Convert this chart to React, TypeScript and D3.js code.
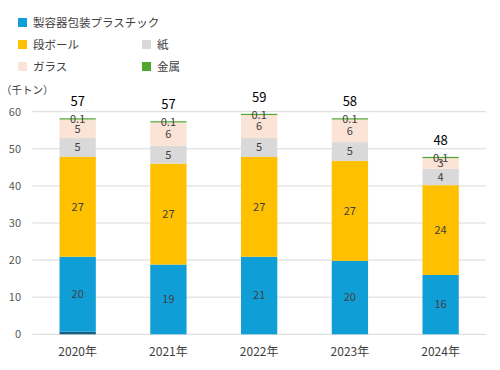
import { useRef, useEffect } from "react";
import * as d3 from "d3";

const years = ["2020年", "2021年", "2022年", "2023年", "2024年"];
const seriesNames = ["その他", "製容器包装プラスチック", "段ボール", "紙", "ガラス", "金属"];
const seriesColors = ["#156082", "#109ed6", "#ffc000", "#d9d9d9", "#fbe3d6", "#4ea72e"];
const other = [0.7, 0, 0, 0, 0];
const plastic = [20.2, 18.8, 20.9, 19.8, 16.0];
const cardboard = [26.9, 27.2, 26.9, 26.9, 24.2];
const paper = [5.1, 4.8, 5.1, 5.1, 4.4];
const glass = [5.0, 6.3, 6.2, 6.1, 2.9];
const metal = [0.1, 0.1, 0.1, 0.1, 0.1];
const yTicks = [0, 10, 20, 30, 40, 50, 60];
// legend layout: [series index, column, row]
const legendItems = [[1, 0, 0], [2, 0, 1], [3, 1, 1], [4, 0, 2], [5, 1, 2]];

const FONT = "'Noto Sans CJK JP', 'Noto Sans', sans-serif";

export default function App() {
  const ref = useRef(null);

  useEffect(() => {
    document.body.style.margin = "0";
    const svg = d3.select(ref.current);
    svg.selectAll("*").remove();

    const width = 500;
    const height = 370;
    const margin = { top: 111.7, right: 14, bottom: 35.7, left: 32.3 };

    svg.attr("width", width).attr("height", height).style("display", "block");

    const rows = years.map((year, i) => ({
      year,
      s0: other[i],
      s1: plastic[i],
      s2: cardboard[i],
      s3: paper[i],
      s4: glass[i],
      s5: metal[i],
    }));
    const keys = ["s0", "s1", "s2", "s3", "s4", "s5"];
    const stacked = d3.stack().keys(keys)(rows);

    const x = d3.scaleBand()
      .domain(years)
      .range([margin.left, width - margin.right])
      .paddingInner(0.6)
      .paddingOuter(0.3);

    const y = d3.scaleLinear()
      .domain([0, 60])
      .range([height - margin.bottom, margin.top]);

    // gridlines
    svg.append("g")
      .selectAll("line")
      .data(yTicks)
      .enter()
      .append("line")
      .attr("x1", margin.left)
      .attr("x2", width - margin.right)
      .attr("y1", d => y(d))
      .attr("y2", d => y(d))
      .attr("stroke", "#d9d9d9")
      .attr("stroke-width", 1);

    svg.append("g")
      .selectAll("text")
      .data(yTicks)
      .enter()
      .append("text")
      .attr("x", 21)
      .attr("y", d => y(d))
      .attr("dy", "0.35em")
      .attr("text-anchor", "end")
      .attr("font-family", FONT)
      .attr("font-size", "11px")
      .attr("fill", "#595959")
      .text(d => d);

    svg.append("text")
      .attr("x", 1)
      .attr("y", 94)
      .attr("font-family", FONT)
      .attr("font-size", "10.5px")
      .attr("fill", "#404040")
      .text("（千トン）");

    // bars (thin metal slice kept visible at 1px like the original)
    stacked.forEach((layer, si) => {
      svg.append("g")
        .selectAll("rect")
        .data(layer)
        .enter()
        .append("rect")
        .attr("x", d => x(d.data.year))
        .attr("y", d => Math.min(y(d[1]), y(d[0]) - (d[1] > d[0] && si === 5 ? 1.2 : 0)))
        .attr("width", x.bandwidth())
        .attr("height", d => {
          const h = y(d[0]) - y(d[1]);
          return si === 5 && h > 0 ? Math.max(h, 1.2) : h;
        })
        .attr("fill", seriesColors[si]);
    });

    // segment labels (skip the unlabeled bottom series)
    stacked.slice(1).forEach(layer => {
      svg.append("g")
        .selectAll("text")
        .data(layer)
        .enter()
        .append("text")
        .attr("x", d => x(d.data.year) + x.bandwidth() / 2)
        .attr("y", d => (y(d[0]) + y(d[1])) / 2)
        .attr("dy", "0.35em")
        .attr("text-anchor", "middle")
        .attr("font-family", FONT)
        .attr("font-size", "11px")
        .attr("fill", "#404040")
        .text(d => {
          const v = d[1] - d[0];
          return v < 1 ? v.toFixed(1) : Math.round(v);
        });
    });

    // totals
    svg.append("g")
      .selectAll("text")
      .data(rows)
      .enter()
      .append("text")
      .attr("x", d => x(d.year) + x.bandwidth() / 2)
      .attr("y", d => y(d.s0 + d.s1 + d.s2 + d.s3 + d.s4 + d.s5) - 13)
      .attr("text-anchor", "middle")
      .attr("font-family", FONT)
      .attr("font-size", "13px")
      .attr("fill", "#000")
      .text(d => Math.round(d.s1 + d.s2 + d.s3 + d.s4 + d.s5));

    // x labels
    svg.append("g")
      .selectAll("text")
      .data(years)
      .enter()
      .append("text")
      .attr("x", d => x(d) + x.bandwidth() / 2)
      .attr("y", 356)
      .attr("text-anchor", "middle")
      .attr("font-family", FONT)
      .attr("font-size", "12px")
      .attr("fill", "#404040")
      .text(d => d);

    // legend
    const legend = svg.append("g");
    legendItems.forEach(([si, col, row]) => {
      const lx = col === 0 ? 18 : 142;
      const ly = 18 + row * 22;
      legend.append("rect")
        .attr("x", lx)
        .attr("y", ly)
        .attr("width", 9)
        .attr("height", 9)
        .attr("fill", seriesColors[si]);
      legend.append("text")
        .attr("x", lx + 15)
        .attr("y", ly + 4.5)
        .attr("dy", "0.35em")
        .attr("font-family", FONT)
        .attr("font-size", "11.5px")
        .attr("fill", "#404040")
        .text(seriesNames[si]);
    });
  }, []);

  return <svg ref={ref}></svg>;
}
